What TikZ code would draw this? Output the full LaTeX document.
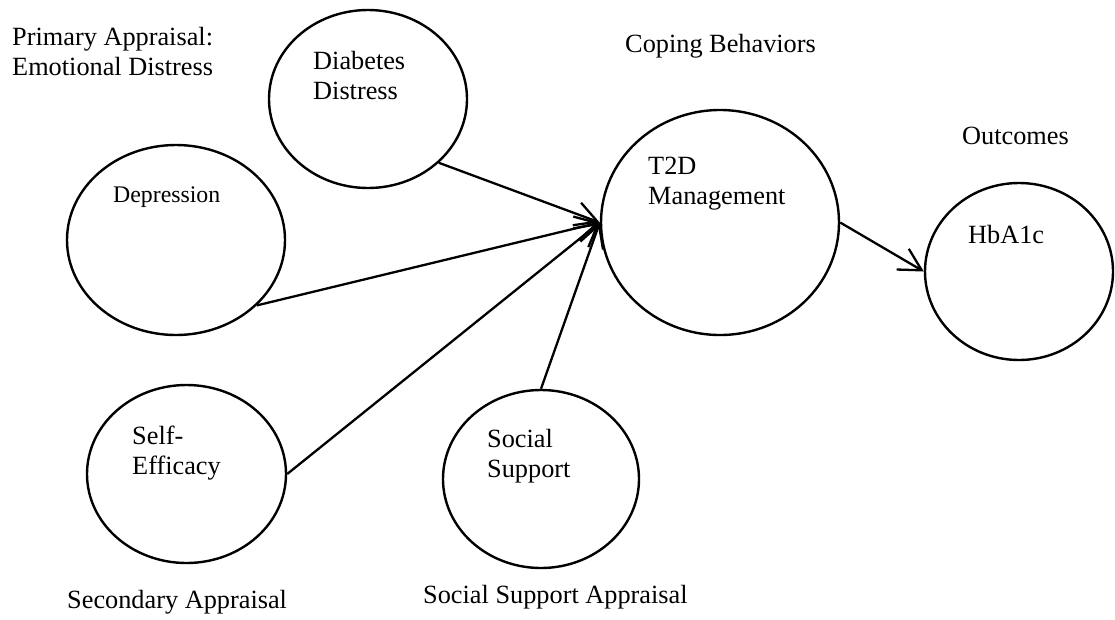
\documentclass[tikz,border=0pt]{standalone}
\usepackage{fontspec}
\setmainfont{Liberation Serif}
\usetikzlibrary{arrows.meta,shapes.geometric}
\begin{document}
\begin{tikzpicture}[x=1pt,y=-1pt,
  ell/.style={draw=black, line width=2.4pt, ellipse, inner sep=0pt},
  lbl/.style={inner sep=0pt, align=left, anchor=base west, font=\fontsize{26.3}{30}\selectfont},
  smalllbl/.style={lbl, font=\fontsize{23.8}{28}\selectfont},
  arr/.style={draw=black, line width=2.3pt, -{Straight Barb[length=22pt,width=24pt]}}
]
\useasboundingbox (0,0) rectangle (1115,619);
% ellipses
\node[ell, minimum width=198pt, minimum height=178pt] (dd) at (368,99) {};
\node[ell, minimum width=218pt, minimum height=190pt] (dep) at (176,240) {};
\node[ell, minimum width=238pt, minimum height=225pt] (t2d) at (720,222.5) {};
\node[ell, minimum width=188pt, minimum height=177pt] (hb) at (1019,271.5) {};
\node[ell, minimum width=199pt, minimum height=178pt] (se) at (186.5,474) {};
\node[ell, minimum width=196pt, minimum height=178pt] (ss) at (541,479) {};
% labels inside (base anchor = baseline of last line)
\node[lbl] (ddt) at (313,99) {Diabetes\\Distress};
\node[smalllbl] (dept) at (113,202) {Depression};
\node[lbl] (t2dt) at (648,204) {T2D\\Management};
\node[lbl] (hbt) at (968,243) {HbA1c};
\node[lbl] (set) at (132,474) {Self-\\Efficacy};
\node[lbl] (sst) at (487,477) {Social\\Support};
% group labels
\node[lbl] (prim) at (12,75) {Primary Appraisal:\\Emotional Distress};
\node[lbl] (cope) at (625,52) {Coping Behaviors};
\node[lbl] (outc) at (962,144) {Outcomes};
\node[lbl] (sec) at (67,608) {Secondary Appraisal};
\node[lbl] (ssa) at (423,603) {Social Support Appraisal};
% arrows
\draw[arr] (dd.-42) -- (t2d.west);
\draw[arr] (dep.-39) -- (t2d.west);
\draw[arr] (se.east) -- (t2d.west);
\draw[arr] (ss.north) -- (t2d.west);
\draw[arr] (t2d.east) -- (hb.west);
\end{tikzpicture}
\end{document}
